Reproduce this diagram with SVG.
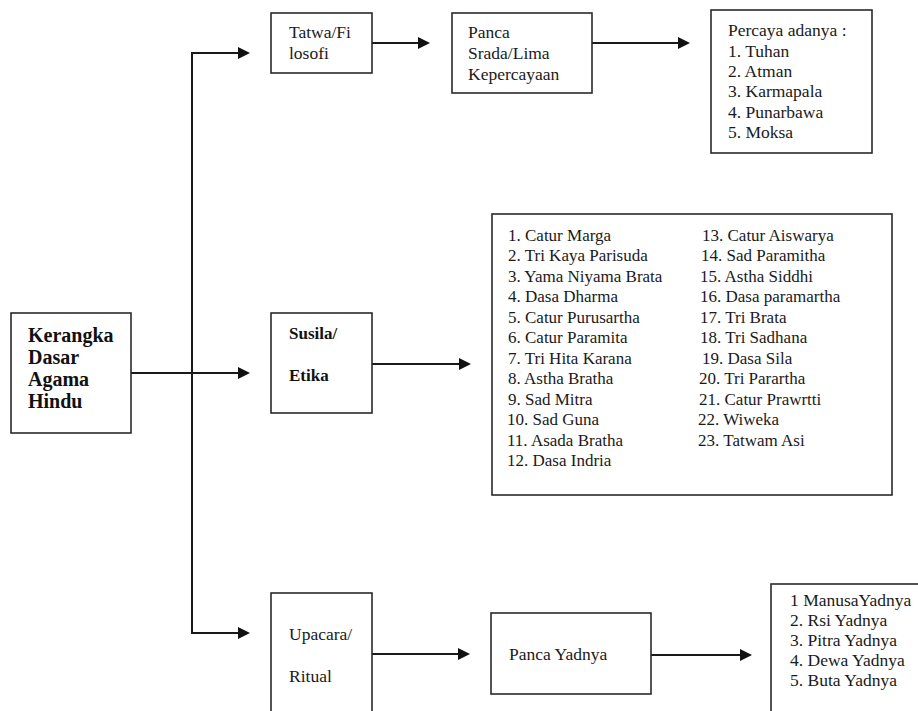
<svg xmlns="http://www.w3.org/2000/svg" width="918" height="711" viewBox="0 0 918 711">
<style>
.box{fill:#fff;stroke:#2a2a2a;stroke-width:1.6}
.ln{fill:none;stroke:#1a1a1a;stroke-width:2}
.t{font-family:"Liberation Serif","Times New Roman",serif;font-size:17.5px;fill:#1a1a1a}
.b{font-family:"Liberation Serif","Times New Roman",serif;font-weight:bold;fill:#111}
.l{font-family:"Liberation Serif","Times New Roman",serif;font-size:17px;fill:#1a1a1a}
</style>
<defs>
<marker id="ah" viewBox="0 0 12 12" refX="4" refY="6" markerWidth="12" markerHeight="12" markerUnits="userSpaceOnUse" orient="auto">
<path d="M0,0 L12,6 L0,12 Z" fill="#111"/>
</marker>
</defs>
<rect width="918" height="711" fill="#fff"/>
<g id="connectors">
<path class="ln" d="M192,373 V53 H242" marker-end="url(#ah)"/>
<path class="ln" d="M192,373 V633 H242" marker-end="url(#ah)"/>
<path class="ln" d="M131,373 H242" marker-end="url(#ah)"/>
<path class="ln" d="M372,43 H422" marker-end="url(#ah)"/>
<path class="ln" d="M592,43 H682" marker-end="url(#ah)"/>
<path class="ln" d="M372,364 H463" marker-end="url(#ah)"/>
<path class="ln" d="M372,654 H462" marker-end="url(#ah)"/>
<path class="ln" d="M651,655 H744" marker-end="url(#ah)"/>
</g>
<g id="node-kerangka">
<rect class="box" x="11" y="313" width="120" height="120"/>
<text class="b" font-size="20" x="28" y="342">Kerangka</text>
<text class="b" font-size="20" x="28" y="364">Dasar</text>
<text class="b" font-size="20" x="28" y="386">Agama</text>
<text class="b" font-size="20" x="28" y="408">Hindu</text>
</g>
<g id="node-tatwa">
<rect class="box" x="271" y="13" width="101" height="60"/>
<text class="t" x="289" y="38">Tatwa/Fi</text>
<text class="t" x="289" y="59">losofi</text>
</g>
<g id="node-panca-srada">
<rect class="box" x="452" y="13" width="140" height="80"/>
<text class="t" x="468" y="38">Panca</text>
<text class="t" x="468" y="59">Srada/Lima</text>
<text class="t" x="468" y="80">Kepercayaan</text>
</g>
<g id="node-percaya">
<rect class="box" x="711" y="10" width="161" height="143"/>
<text class="t" x="728" y="36">Percaya adanya :</text>
<text class="t" x="728" y="56.5">1. Tuhan</text>
<text class="t" x="728" y="77">2. Atman</text>
<text class="t" x="728" y="97">3. Karmapala</text>
<text class="t" x="728" y="117.5">4. Punarbawa</text>
<text class="t" x="728" y="137.5">5. Moksa</text>
</g>
<g id="node-susila">
<rect class="box" x="271" y="313" width="101" height="100"/>
<text class="b" font-size="17" x="289" y="339">Susila/</text>
<text class="b" font-size="17" x="289" y="381">Etika</text>
</g>
<g id="node-etika-list">
<rect class="box" x="492" y="214" width="400" height="281"/>
<text class="l" x="508" y="240.7">1. Catur Marga</text>
<text class="l" x="508" y="261.2">2. Tri Kaya Parisuda</text>
<text class="l" x="508" y="281.7">3. Yama Niyama Brata</text>
<text class="l" x="508" y="302.1">4. Dasa Dharma</text>
<text class="l" x="508" y="322.6">5. Catur Purusartha</text>
<text class="l" x="508" y="343.1">6. Catur Paramita</text>
<text class="l" x="508" y="363.6">7. Tri Hita Karana</text>
<text class="l" x="508" y="384.1">8. Astha Bratha</text>
<text class="l" x="508" y="404.5">9. Sad Mitra</text>
<text class="l" x="507" y="425">10. Sad Guna</text>
<text class="l" x="507" y="445.5">11. Asada Bratha</text>
<text class="l" x="507" y="466">12. Dasa Indria</text>
<text class="l" x="702" y="240.7">13. Catur Aiswarya</text>
<text class="l" x="701" y="261.2">14. Sad Paramitha</text>
<text class="l" x="700" y="281.7">15. Astha Siddhi</text>
<text class="l" x="700" y="302.1">16. Dasa paramartha</text>
<text class="l" x="700" y="322.6">17. Tri Brata</text>
<text class="l" x="700" y="343.1">18. Tri Sadhana</text>
<text class="l" x="702" y="363.6">19. Dasa Sila</text>
<text class="l" x="699" y="384.1">20. Tri Parartha</text>
<text class="l" x="699" y="404.5">21. Catur Prawrtti</text>
<text class="l" x="698" y="425">22. Wiweka</text>
<text class="l" x="698" y="445.5">23. Tatwam Asi</text>
</g>
<g id="node-upacara">
<rect class="box" x="271" y="593" width="101" height="130"/>
<text class="t" x="289" y="640">Upacara/</text>
<text class="t" x="289" y="682">Ritual</text>
</g>
<g id="node-panca-yadnya">
<rect class="box" x="491" y="613" width="160" height="81"/>
<text class="t" x="509" y="660">Panca Yadnya</text>
</g>
<g id="node-yadnya-list">
<rect class="box" x="771" y="584" width="160" height="140"/>
<text class="t" x="790" y="605.5">1 ManusaYadnya</text>
<text class="t" x="790" y="625.5">2. Rsi Yadnya</text>
<text class="t" x="790" y="645.5">3. Pitra Yadnya</text>
<text class="t" x="790" y="665.5">4. Dewa Yadnya</text>
<text class="t" x="790" y="685.5">5. Buta Yadnya</text>
</g>
</svg>
